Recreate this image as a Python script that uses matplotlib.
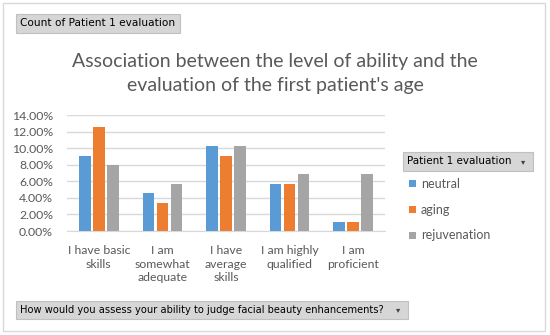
import matplotlib
matplotlib.use("Agg")
import matplotlib.pyplot as plt
from matplotlib.patches import Rectangle
import numpy as np

categories = ["I have basic\nskills", "I am\nsomewhat\nadequate", "I have\naverage\nskills",
              "I am highly\nqualified", "I am\nproficient"]
series_names = ["neutral", "aging", "rejuvenation"]
neutral = [9.09, 4.55, 10.23, 5.68, 1.14]
aging = [12.50, 3.41, 9.09, 5.68, 1.14]
rejuvenation = [7.95, 5.68, 10.23, 6.82, 6.82]
yticks = [0, 2, 4, 6, 8, 10, 12, 14]

colors = ["#5B9BD5", "#ED7D31", "#A5A5A5"]
txt = "#595959"
W, H = 550, 335

plt.rcParams['font.family'] = ['Lato', 'DejaVu Sans']

fig = plt.figure(figsize=(W / 100, H / 100), dpi=100)
fig.patch.set_facecolor("white")

# outer border
fig.add_artist(Rectangle((3 / W, 4 / H), 542 / W, 328 / H, transform=fig.transFigure,
                         fill=False, edgecolor="#D9D9D9", linewidth=1))

ax = fig.add_axes([67 / W, (H - 231) / H, 318 / W, 116 / H])
x = np.arange(len(categories))
bw = 0.18
step = 0.22
for i, vals in enumerate([neutral, aging, rejuvenation]):
    ax.bar(x + (i - 1) * step, vals, width=bw, color=colors[i], label=series_names[i], zorder=3)

ax.set_xlim(-0.5, len(categories) - 0.5)
ax.set_ylim(0, 14)
ax.set_yticks(yticks)
ax.set_yticklabels(["%.2f%%" % v for v in yticks])
ax.set_xticks(x)
ax.set_xticklabels(categories, linespacing=1.3)
ax.tick_params(axis="both", length=0, labelsize=8.8, colors=txt)
ax.tick_params(axis="x", pad=10)
ax.tick_params(axis="y", pad=10)
ax.grid(axis="y", color="#D9D9D9", linewidth=1, zorder=0)
for s in ["top", "right", "left"]:
    ax.spines[s].set_visible(False)
ax.spines["bottom"].set_color("#D9D9D9")

fig.text(275 / W, 1 - 73 / H,
         "Association between the level of ability and the\nevaluation of the first patient's age",
         ha="center", va="center", fontsize=14, color=txt, linespacing=1.5)


def button(x0, y0, w, h, label, arrow=False, fs=7):
    fig.add_artist(Rectangle((x0 / W, 1 - (y0 + h) / H), w / W, h / H, transform=fig.transFigure,
                             facecolor="#D6D6D6", edgecolor="#C0C0C0", linewidth=0.8))
    fig.text((x0 + 4) / W, 1 - (y0 + h / 2) / H, label, ha="left", va="center",
             fontsize=fs, color="black", family=['DejaVu Sans'])
    if arrow:
        fig.text((x0 + w - 10) / W, 1 - (y0 + h / 2) / H, "\u25BE", ha="center", va="center",
                 fontsize=6, color="#404040", family=['DejaVu Sans'])


button(16, 14, 164, 19, "Count of Patient 1 evaluation", fs=7.6)
button(403, 152, 130, 19, "Patient 1 evaluation", arrow=True, fs=7.5)
button(16, 301, 392, 18, "How would you assess your ability to judge facial beauty enhancements?",
       arrow=True, fs=7.1)

# legend entries
for i, name in enumerate(series_names):
    yy = 184 + i * 25.5
    fig.add_artist(Rectangle((409 / W, 1 - (yy + 3.5) / H), 7 / W, 7 / H, transform=fig.transFigure,
                             facecolor=colors[i], edgecolor="none"))
    fig.text(421 / W, 1 - yy / H, name, ha="left", va="center", fontsize=9, color=txt)

fig.savefig("out.png", dpi=100)
